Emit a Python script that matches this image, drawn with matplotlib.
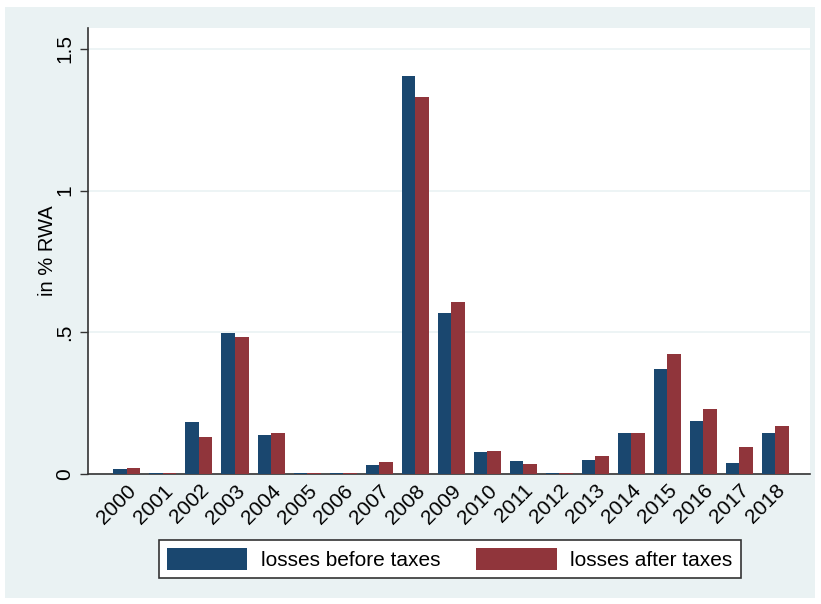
import matplotlib
matplotlib.use("Agg")
import matplotlib.pyplot as plt
from matplotlib.patches import Rectangle
import numpy as np

years = ["2000", "2001", "2002", "2003", "2004", "2005", "2006", "2007", "2008", "2009",
         "2010", "2011", "2012", "2013", "2014", "2015", "2016", "2017", "2018"]
before_taxes = [0.018, 0.005, 0.183, 0.497, 0.137, 0.005, 0.004, 0.032, 1.403, 0.569,
                0.078, 0.046, 0.003, 0.048, 0.146, 0.371, 0.187, 0.039, 0.146]
after_taxes = [0.021, 0.005, 0.131, 0.483, 0.143, 0.002, 0.004, 0.043, 1.329, 0.607,
               0.082, 0.035, 0.003, 0.062, 0.144, 0.424, 0.228, 0.094, 0.170]
ytick_vals = [0, 0.5, 1, 1.5]
ytick_labels = ["0", ".5", "1", "1.5"]

plt.rcParams['font.family'] = ['Liberation Sans', 'DejaVu Sans']

BG = "#eaf2f3"
BLUE = "#1a476f"
RED = "#90353b"

fig = plt.figure(figsize=(8.21, 6.04), dpi=100, facecolor="white")
fig.patches.append(Rectangle((5/821, 6/604), 810/821, 591/604, transform=fig.transFigure,
                             facecolor=BG, edgecolor="none", zorder=-10))

ax = fig.add_axes([88/821, (604-474)/604, (810-88)/821, (474-28)/604])
ax.set_facecolor("white")

x = np.arange(len(years))
w = 0.375
ax.bar(x - w/2, before_taxes, width=w, color=BLUE, label="losses before taxes", zorder=3)
ax.bar(x + w/2, after_taxes, width=w, color=RED, label="losses after taxes", zorder=3)

ax.set_xlim(-1.08, 18.96)
ax.set_ylim(0, 1.574)
ax.set_yticks(ytick_vals)
ax.set_yticklabels(ytick_labels, rotation=90, va="center", fontsize=15)
ax.set_xticks(x)
ax.set_xticklabels(years, rotation=45, ha="right", va="top", rotation_mode="anchor", fontsize=15)
ax.tick_params(axis="x", length=0, pad=5)
ax.tick_params(axis="y", length=6, width=1, color="#333333", pad=4)
ax.grid(axis="y", color=BG, linewidth=1.2, zorder=0)
ax.set_axisbelow(True)
for s in ["top", "right"]:
    ax.spines[s].set_visible(False)
for s in ["left", "bottom"]:
    ax.spines[s].set_color("#333333")
    ax.spines[s].set_linewidth(1.2)
ax.set_ylabel("in % RWA", fontsize=14.5, labelpad=-1)

leg = fig.legend(loc="center", bbox_to_anchor=(450/821, 45/604), ncol=2, fontsize=15,
                 frameon=True, fancybox=False, edgecolor="#333333", facecolor="white",
                 handlelength=3.85, handleheight=1.2, columnspacing=1.7, handletextpad=0.67,
                 borderpad=0.4, borderaxespad=0)
leg.get_frame().set_linewidth(1.2)
leg.get_frame().set_alpha(1)

fig.savefig("out.png", dpi=100, facecolor="white")
